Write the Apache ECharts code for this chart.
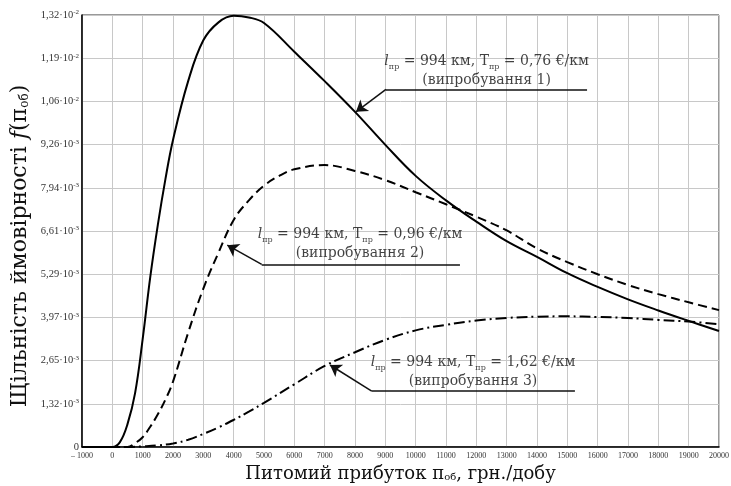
<!DOCTYPE html>
<html>
<head>
<meta charset="utf-8">
<script src="https://cdn.jsdelivr.net/npm/echarts@6/dist/echarts.min.js"></script>
<style>html,body{margin:0;padding:0;background:#fff}#c{width:731px;height:486px}</style>
</head>
<body>
<div id="c"></div>
<script>
// x values (грн./добу) and densities (units of 1e-3)
var xSolid = [-1000,0,250,500,750,1000,1250,1500,1750,2000,2500,3000,3500,4000,4500,5000,6000,7000,8000,9000,10000,11000,12000,13000,14000,15000,16000,17000,18000,19000,20000];
var ySolid = [0,0,0.15,0.7,1.65,3.3,5.2,6.8,8.2,9.4,11.2,12.45,13.0,13.2,13.15,12.98,12.1,11.2,10.26,9.25,8.3,7.55,6.9,6.3,5.82,5.32,4.9,4.52,4.18,3.86,3.55];

var xDash = [-1000,0,500,750,1000,1250,1500,1750,2000,2500,3000,3500,4000,4500,5000,5500,6000,7000,8000,9000,10000,11000,12000,13000,14000,15000,16000,17000,18000,19000,20000];
var yDash = [0,0,0,0.12,0.3,0.62,1.0,1.45,2.0,3.5,4.85,5.95,6.95,7.55,8.0,8.3,8.5,8.63,8.45,8.17,7.8,7.43,7.05,6.63,6.08,5.66,5.29,4.96,4.68,4.43,4.19];

var xDot = [-1000,500,1000,1500,2000,2500,3000,3500,4000,4500,5000,6000,7000,8000,9000,10000,11000,12000,13000,14000,15000,16000,17000,18000,19000,20000];
var yDot = [0,0,0.02,0.05,0.11,0.22,0.4,0.6,0.83,1.08,1.35,1.92,2.48,2.9,3.28,3.57,3.74,3.87,3.95,3.99,4.0,3.98,3.95,3.89,3.84,3.76];

var yTickLabels = ['0','1,32·10|-3','2,65·10|-3','3,97·10|-3','5,29·10|-3','6,61·10|-3','7,94·10|-3','9,26·10|-3','1,06·10|-2','1,19·10|-2','1,32·10|-2'];

var annTexts = [
  '{it|l}{sub|пр}{n| = 994 км, Т}{sub|пр}{n| = 0,76 €/км}\n{n|(випробування 1)}',
  '{it|l}{sub|пр}{n| = 994 км, Т}{sub|пр}{n| = 0,96 €/км}\n{n|(випробування 2)}',
  '{it|l}{sub|пр}{n| = 994 км, Т}{sub|пр}{n| = 1,62 €/км}\n{n|(випробування 3)}'
];
// label anchor (data coords)
var annTextPos = [[12340, 11.52],[8165, 6.21],[11890, 2.31]];
// leader lines: horizontal underline (right end -> elbow), then elbow -> arrow tip on curve
var annUnder = [
  [[15650, 10.95],[9020, 10.95]],
  [[11460, 5.59],[4924, 5.59]],
  [[15250, 1.71],[8551, 1.71]]
];
var annArrow = [
  [[9020, 10.95],[8033, 10.26]],
  [[4924, 5.59],[3790, 6.18]],
  [[8551, 1.71],[7176, 2.51]]
];

var xTitle = '{t|Питомий прибуток п}{s|об}{t|, грн./добу}';
var yTitle = '{t|Щільність ймовірності }{f|f}{t|(п}{s|об}{t|)}';

function pairs(xs, ys){ return xs.map(function(x,i){return [x, ys[i]];}); }

var serif = '"Liberation Serif","DejaVu Serif",serif';
var wide = '"DejaVu Serif","Liberation Serif",serif';
var chart = echarts.init(document.getElementById('c'));
var yMax = 13.225, yInt = 1.3225;

chart.setOption({
  animation: false,
  backgroundColor: '#fff',
  grid: {left: 82, right: 12, top: 15, bottom: 39, show: true, borderColor: '#333', borderWidth: 1,
    outerBoundsMode: 'none', containLabel: false},
  graphic: [{
    type: 'text', x: 20, y: 246, rotation: Math.PI / 2,
    style: {text: yTitle, align: 'center', verticalAlign: 'middle', fill: '#111',
      rich: {
        t: {fontFamily: wide, fontSize: 22, fill: '#111'},
        f: {fontFamily: wide, fontSize: 22, fill: '#111', fontStyle: 'italic'},
        s: {fontFamily: wide, fontSize: 12, fill: '#111', verticalAlign: 'bottom', padding: [8,0,0,0]}
      }}
  }],
  xAxis: {
    type: 'value', min: -1000, max: 20000, interval: 1000,
    axisLine: {onZero: false, lineStyle: {color: '#000', width: 1.5}},
    axisTick: {show: false},
    splitLine: {lineStyle: {color: '#c8c8c8', width: 1}},
    axisLabel: {fontFamily: serif, fontSize: 8, color: '#333', margin: 5,
      formatter: function(v){ return v < 0 ? '– ' + Math.abs(v) : String(v); }},
    name: xTitle,
    nameLocation: 'middle', nameGap: 14,
    nameTextStyle: {rich: {
      t: {fontFamily: wide, fontSize: 18, color: '#111'},
      s: {fontFamily: wide, fontSize: 10, color: '#111', verticalAlign: 'bottom', padding: [6,0,0,0]}
    }}
  },
  yAxis: {
    type: 'value', min: 0, max: yMax, interval: yInt,
    axisLine: {onZero: false, lineStyle: {color: '#000', width: 1.5}},
    axisTick: {show: false},
    splitLine: {lineStyle: {color: '#c8c8c8', width: 1}},
    axisLabel: {margin: 3, color: '#333',
      formatter: function(v){
        var i = Math.round(v / yInt);
        var s = yTickLabels[i] || '';
        if (s.indexOf('|') < 0) return '{m|' + s + '}';
        var p = s.split('|');
        return '{m|' + p[0] + '}{e|' + p[1] + '}';
      },
      rich: {
        m: {fontFamily: serif, fontSize: 10.5, color: '#333'},
        e: {fontFamily: serif, fontSize: 7, color: '#333', verticalAlign: 'top', padding: [0,0,5,0]}
      }
    }
  },
  series: [
    {type: 'line', data: pairs(xSolid, ySolid), showSymbol: false, smooth: 0.4,
      lineStyle: {color: '#000', width: 2, type: 'solid'}, z: 5},
    {type: 'line', data: pairs(xDash, yDash), showSymbol: false, smooth: 0.4,
      lineStyle: {color: '#000', width: 2, type: [9, 5]}, z: 5},
    {type: 'line', data: pairs(xDot, yDot), showSymbol: false, smooth: 0.4,
      lineStyle: {color: '#000', width: 2, type: [11, 4, 2, 4]}, z: 5},
    {type: 'lines', coordinateSystem: 'cartesian2d',
      symbol: ['none', 'none'],
      lineStyle: {color: '#111', width: 1.5, opacity: 1, curveness: 0},
      data: annUnder.map(function(c){ return {coords: c}; }), z: 6},
    {type: 'lines', coordinateSystem: 'cartesian2d',
      symbol: ['none', 'arrow'], symbolSize: 11,
      lineStyle: {color: '#111', width: 1.5, opacity: 1, curveness: 0},
      data: annArrow.map(function(c){ return {coords: c}; }), z: 6},
    {type: 'scatter', symbolSize: 0, z: 7,
      data: annTextPos.map(function(p, i){ return {value: p, label: {formatter: annTexts[i]}}; }),
      label: {show: true, position: 'inside', align: 'center', verticalAlign: 'middle', lineHeight: 19,
        rich: {
          n: {fontFamily: wide, fontSize: 14, color: '#111', lineHeight: 19},
          it: {fontFamily: wide, fontSize: 14, color: '#111', fontStyle: 'italic', lineHeight: 19},
          sub: {fontFamily: wide, fontSize: 8, color: '#111', verticalAlign: 'bottom', lineHeight: 19, padding: [7,0,0,0]}
        }}
    }
  ]
});
</script>
</body>
</html>
